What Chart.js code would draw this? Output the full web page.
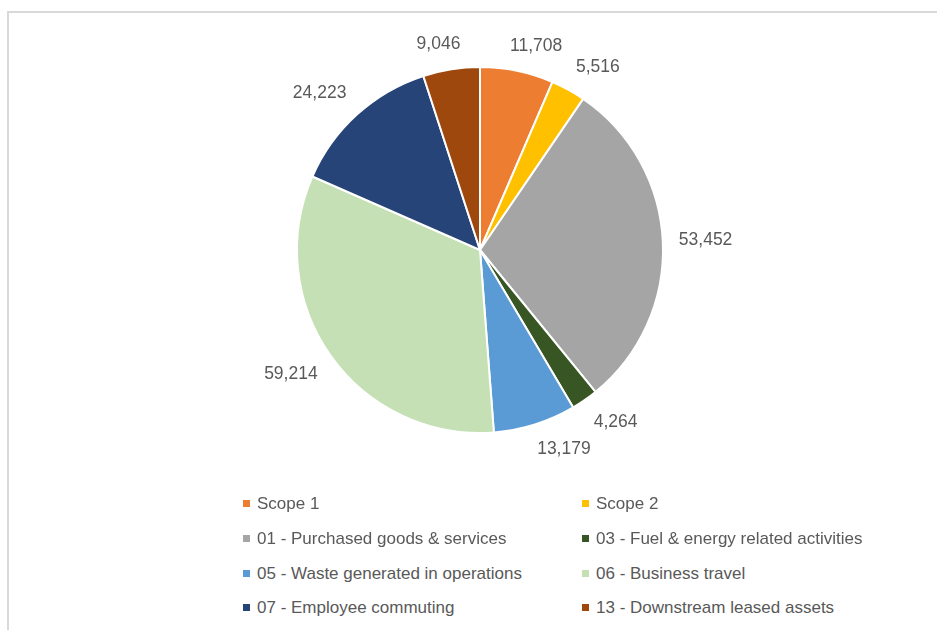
<!DOCTYPE html>
<html>
<head>
<meta charset="utf-8">
<script src="https://cdn.jsdelivr.net/npm/chart.js@4.4.1/dist/chart.umd.min.js"></script>
<style>
  body { margin: 0; background: #fff; font-family: "Liberation Sans", Arial, sans-serif; }
  #frame { position: absolute; left: 7px; top: 11px; width: 1000px; height: 700px; border: 2px solid #d9d9d9; box-sizing: border-box; }
  #wrap { position: absolute; left: 0; top: 0; width: 937px; height: 500px; }
  #legend { position: absolute; left: 0; top: 0; }
  .item { position: absolute; height: 20px; line-height: 20px; font-size: 17px; color: #595959; white-space: nowrap; }
  .item span.box { display: inline-block; width: 7px; height: 7px; margin-right: 7px; vertical-align: 2px; }
</style>
</head>
<body>
<div id="frame"></div>
<div id="wrap"><canvas id="chart" width="937" height="500"></canvas></div>
<div id="legend"></div>
<script>
const categories = [
  "Scope 1",
  "Scope 2",
  "01 - Purchased goods & services",
  "03 - Fuel & energy related activities",
  "05 - Waste generated in operations",
  "06 - Business travel",
  "07 - Employee commuting",
  "13 - Downstream leased assets"
];
const emissions = [11708, 5516, 53452, 4264, 13179, 59214, 24223, 9046];
const colors = ["#ED7D31", "#FFC000", "#A5A5A5", "#375623", "#5B9BD5", "#C5E0B4", "#264478", "#9E480E"];

// value labels outside the slices, roughly like Excel's "best fit"
const outsideLabels = {
  id: "outsideLabels",
  afterDatasetsDraw(chart) {
    const ctx = chart.ctx;
    const meta = chart.getDatasetMeta(0);
    ctx.save();
    ctx.font = "17.5px 'Liberation Sans', Arial, sans-serif";
    ctx.fillStyle = "#595959";
    ctx.textAlign = "center";
    ctx.textBaseline = "middle";
    meta.data.forEach((arc, i) => {
      const p = arc.getProps(["x", "y", "startAngle", "endAngle", "outerRadius"], true);
      const mid = (p.startAngle + p.endAngle) / 2;
      const c = Math.cos(mid), s = Math.sin(mid);
      const txt = emissions[i].toLocaleString("en-US");
      const w = ctx.measureText(txt).width;
      const r = p.outerRadius + 16;
      const ax = p.x + r * c, ay = p.y + r * s;
      const clamp = v => Math.max(-1, Math.min(1, v));
      const tx = ax + (w / 2) * clamp(c * 3);
      const ty = ay + 9 * clamp(s * 3);
      ctx.fillText(txt, tx, ty);
    });
    ctx.restore();
  }
};

const chart = new Chart(document.getElementById("chart").getContext("2d"), {
  type: "pie",
  data: {
    labels: categories,
    datasets: [{
      data: emissions,
      backgroundColor: colors,
      borderColor: "#ffffff",
      borderWidth: 2,
      hoverOffset: 0,
      offset: 0
    }]
  },
  options: {
    responsive: false,
    animation: false,
    layout: { padding: { top: 66, bottom: 66, left: 296, right: 273 } },
    plugins: {
      legend: { display: false },
      tooltip: { enabled: false }
    }
  },
  plugins: [outsideLabels]
});

// two-column legend under the pie
const legendDiv = document.getElementById("legend");
const items = Chart.overrides.pie.plugins.legend.labels.generateLabels(chart);
const colX = [243, 582];
const rowY = [504, 539, 574, 608];
items.forEach((it, i) => {
  const d = document.createElement("div");
  d.className = "item";
  d.style.left = colX[i % 2] + "px";
  d.style.top = (rowY[Math.floor(i / 2)] - 10) + "px";
  d.innerHTML = '<span class="box" style="background:' + it.fillStyle + '"></span>' + it.text;
  legendDiv.appendChild(d);
});
</script>
</body>
</html>
